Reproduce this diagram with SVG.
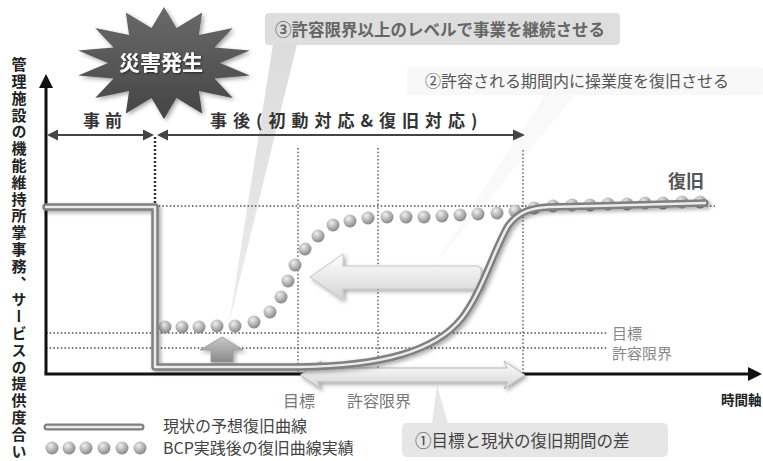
<svg xmlns="http://www.w3.org/2000/svg" width="763" height="461" viewBox="0 0 763 461">
<style>
.jp{font-family:"Noto Sans CJK JP","Noto Sans CJK SC",sans-serif}
.b{font-weight:bold}
.dot{stroke:#4a4a4a;stroke-width:1.3;stroke-dasharray:1.5 2.2;fill:none}
.ax{stroke:#111;stroke-width:3;fill:none}
.span{stroke:#444;stroke-width:2;fill:none}
.bead{fill:url(#bead)}
</style>
<defs>
<radialGradient id="bead" cx="0.38" cy="0.32" r="0.7">
<stop offset="0" stop-color="#f0f0f0"/>
<stop offset="0.55" stop-color="#b5b5b5"/>
<stop offset="1" stop-color="#858585"/>
</radialGradient>
<linearGradient id="star" x1="0" y1="0" x2="0" y2="1">
<stop offset="0" stop-color="#6a6a6a"/>
<stop offset="1" stop-color="#444"/>
</linearGradient>
<linearGradient id="warr" x1="0" y1="0" x2="0" y2="1">
<stop offset="0" stop-color="#ffffff"/>
<stop offset="1" stop-color="#d4d4d4"/>
</linearGradient>
<linearGradient id="garr" x1="0" y1="0" x2="0" y2="1">
<stop offset="0" stop-color="#c8c8c8"/>
<stop offset="1" stop-color="#8a8a8a"/>
</linearGradient>
<linearGradient id="wedge3" x1="0" y1="0" x2="0" y2="1">
<stop offset="0" stop-color="#dcdcdc"/>
<stop offset="1" stop-color="#ececec"/>
</linearGradient>
<filter id="sh" x="-20%" y="-20%" width="140%" height="140%">
<feDropShadow dx="2" dy="2" stdDeviation="2" flood-color="#000" flood-opacity="0.35"/>
</filter>
<filter id="tsh" x="-20%" y="-20%" width="140%" height="140%">
<feDropShadow dx="1" dy="1" stdDeviation="1" flood-color="#000" flood-opacity="0.6"/>
</filter>
</defs>
<rect width="763" height="461" fill="#fff"/>

<!-- callouts -->
<g id="callout2">
<polygon points="545,95 575,95 432,268" fill="#f9f9f9"/>
<rect x="407" y="67" width="356" height="28" rx="3" fill="#f8f8f8"/>
<text x="425" y="87" class="jp" font-size="16" fill="#555">②許容される期間内に操業度を復旧させる</text>
</g>
<g id="callout3">
<polygon points="273,44 297,44 229,324" fill="url(#wedge3)"/>
<rect x="265" y="13" width="355" height="32" rx="4" fill="#dedede"/>
<text x="275" y="36" class="jp b" font-size="16.5" fill="#666">③許容限界以上のレベルで事業を継続させる</text>
</g>
<g id="callout1">
<polygon points="432,424 448,424 437,385" fill="#e6e6e6"/>
<rect x="402" y="423" width="266" height="34" rx="5" fill="#e6e6e6"/>
<text x="415" y="447" class="jp" font-size="16.5" fill="#444">①目標と現状の復旧期間の差</text>
</g>

<!-- grid / reference lines -->
<g id="connectors">
<line x1="155" y1="137" x2="155" y2="206" stroke="#333" stroke-width="2.5" stroke-dasharray="2 2"/>
<line class="dot" x1="155" y1="206" x2="715" y2="206"/>
<line class="dot" x1="298" y1="148" x2="298" y2="373"/>
<line class="dot" x1="378" y1="148" x2="378" y2="373"/>
<line class="dot" x1="523" y1="150" x2="523" y2="373"/>
<line class="dot" x1="46" y1="333" x2="608" y2="333"/>
<line class="dot" x1="46" y1="348" x2="608" y2="348"/>
<!-- axes -->
<line class="ax" x1="46" y1="86" x2="46" y2="374"/>
<polygon points="46,74 39,88 53,88" fill="#111"/>
<line class="ax" x1="44.5" y1="374" x2="750" y2="374"/>
<polygon points="762,374 748,367 748,381" fill="#111"/>
<!-- period spans -->
<line class="span" x1="56" y1="135" x2="144" y2="135"/>
<polygon points="47,135 58,129.5 58,140.5" fill="#444"/>
<polygon points="154,135 143,129.5 143,140.5" fill="#444"/>
<line class="span" x1="167" y1="135" x2="514" y2="135"/>
<polygon points="157,135 168,129.5 168,140.5" fill="#444"/>
<polygon points="525,135 513,129.5 513,140.5" fill="#444"/>
</g>

<!-- BCP bead curve -->
<g id="bcp-curve">
<circle class="bead" cx="165" cy="327" r="6.5"/>
<circle class="bead" cx="182" cy="327" r="6.5"/>
<circle class="bead" cx="199" cy="327" r="6.5"/>
<circle class="bead" cx="217" cy="326" r="6.5"/>
<circle class="bead" cx="235" cy="326" r="6.5"/>
<circle class="bead" cx="254" cy="322" r="6.5"/>
<circle class="bead" cx="270" cy="312" r="6.5"/>
<circle class="bead" cx="281" cy="297" r="6.5"/>
<circle class="bead" cx="288" cy="281" r="6.5"/>
<circle class="bead" cx="295" cy="265" r="6.5"/>
<circle class="bead" cx="305" cy="249" r="6.5"/>
<circle class="bead" cx="318" cy="236" r="6.5"/>
<circle class="bead" cx="333" cy="225" r="6.5"/>
<circle class="bead" cx="350" cy="221" r="6.5"/>
<circle class="bead" cx="368" cy="218" r="6.5"/>
<circle class="bead" cx="387" cy="217" r="6.5"/>
<circle class="bead" cx="406" cy="217" r="6.5"/>
<circle class="bead" cx="424" cy="217" r="6.5"/>
<circle class="bead" cx="442" cy="216" r="6.5"/>
<circle class="bead" cx="460" cy="215" r="6.5"/>
<circle class="bead" cx="478" cy="214" r="6.5"/>
<circle class="bead" cx="497" cy="213" r="6.5"/>
<circle class="bead" cx="515" cy="211" r="6.5"/>
<circle class="bead" cx="534" cy="208" r="6.5"/>
<circle class="bead" cx="553" cy="206" r="6.5"/>
<circle class="bead" cx="572" cy="205" r="6.5"/>
<circle class="bead" cx="590" cy="205" r="6.5"/>
<circle class="bead" cx="608" cy="204" r="6.5"/>
<circle class="bead" cx="627" cy="204" r="6.5"/>
<circle class="bead" cx="645" cy="203" r="6.5"/>
<circle class="bead" cx="663" cy="203" r="6.5"/>
<circle class="bead" cx="682" cy="202" r="6.5"/>
<circle class="bead" cx="700" cy="202" r="6.5"/>
</g>

<!-- arrows -->
<g id="arrow-left" filter="url(#sh)">
<polygon points="310,277 343,254 343,266 478,266 481,269 481,286 478,289 343,289 343,300" fill="url(#warr)" stroke="#c4c4c4" stroke-width="1"/>
</g>
<g id="arrow-up" filter="url(#sh)">
<polygon points="222,337 243,350 233,350 233,362 211,362 211,350 200,350" fill="url(#garr)" stroke="#999" stroke-width="0.8"/>
</g>
<g id="arrow-gap" filter="url(#sh)">
<polygon points="300,375 321,361 318,368 507,368 504,361 525,375 504,389 507,382 318,382 321,389" fill="url(#warr)" stroke="#b5b5b5" stroke-width="1"/>
</g>

<!-- current expected recovery curve -->
<g id="current-curve" filter="url(#sh)">
<path d="M46,207 L155,207 L155,367 L300,367 C380,366 435,352 462,318 C482,292 494,250 508,226 C518,212 530,208 550,207 C600,206 660,204 705,203" fill="none" stroke="#808080" stroke-width="7.5" stroke-linejoin="round" stroke-linecap="round"/>
<path d="M46,207 L155,207 L155,367 L300,367 C380,366 435,352 462,318 C482,292 494,250 508,226 C518,212 530,208 550,207 C600,206 660,204 705,203" fill="none" stroke="#ececec" stroke-width="2.5" stroke-linejoin="round" stroke-linecap="round"/>
</g>

<!-- disaster star -->
<g id="disaster">
<polygon filter="url(#sh)" fill="url(#star)" points="164,7 176.5,27.9 202.2,12.5 198.9,34.9 232.8,28.1 214.5,47.4 249.8,50.5 220,63 249.8,75.5 214.5,78.6 232.8,97.9 198.9,91.1 202.2,113.5 176.5,98.1 164,119 151.5,98.1 125.8,113.5 129.1,91.1 95.2,97.9 113.5,78.6 78.2,75.5 108,63 78.2,50.5 113.5,47.4 95.2,28.1 129.1,34.9 125.8,12.5 151.5,27.9"/>
<text x="161" y="70" text-anchor="middle" class="jp b" font-size="21" fill="#fff" filter="url(#tsh)">災害発生</text>
</g>

<!-- labels -->
<g id="labels">
<text x="83" y="127" class="jp b" font-size="17" fill="#333" letter-spacing="5">事前</text>
<text x="210" y="127" class="jp b" font-size="17" fill="#333" letter-spacing="6">事後(初動対応&amp;復旧対応)</text>
<text x="668" y="188" class="jp b" font-size="18" fill="#555">復旧</text>
<text x="612" y="339" class="jp" font-size="15" fill="#888">目標</text>
<text x="612" y="359" class="jp" font-size="15" fill="#888">許容限界</text>
<text x="283" y="407" class="jp" font-size="16" fill="#777">目標</text>
<text x="347" y="407" class="jp" font-size="16" fill="#777">許容限界</text>
<text x="721" y="405" class="jp b" font-size="13.5" fill="#222">時間軸</text>
<text x="19" y="57" class="jp b" font-size="15" fill="#222" letter-spacing="1.8" style="writing-mode:vertical-rl">管理施設の機能維持所掌事務、サービスの提供度合い</text>
</g>

<!-- legend -->
<g id="legend">
<line x1="47" y1="427" x2="141" y2="427" stroke="#808080" stroke-width="7" stroke-linecap="round"/>
<line x1="47" y1="427" x2="141" y2="427" stroke="#ececec" stroke-width="2.5" stroke-linecap="round"/>
<text x="163" y="432" class="jp" font-size="16" fill="#444">現状の予想復旧曲線</text>
<circle class="bead" cx="52" cy="448" r="6.5"/>
<circle class="bead" cx="69" cy="448" r="6.5"/>
<circle class="bead" cx="86" cy="448" r="6.5"/>
<circle class="bead" cx="104" cy="448" r="6.5"/>
<circle class="bead" cx="122" cy="448" r="6.5"/>
<circle class="bead" cx="140" cy="448" r="6.5"/>
<text x="163" y="454" class="jp" font-size="16" fill="#444">BCP実践後の復旧曲線実績</text>
</g>
</svg>
